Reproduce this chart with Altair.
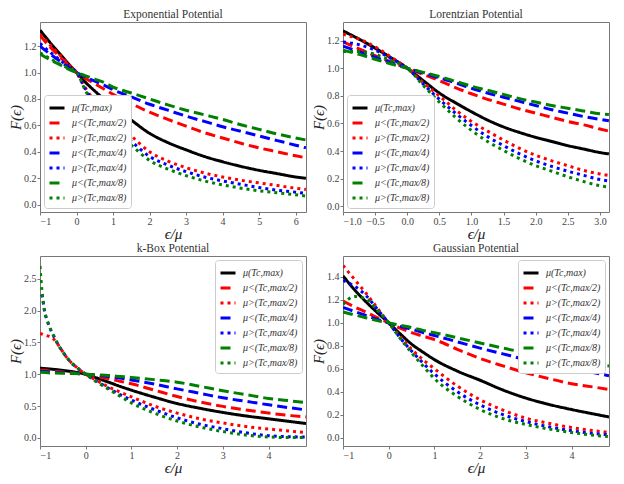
import altair as alt
import pandas as pd

SERIES = ["μ(Tc,max)", "μ<(Tc,max/2)", "μ>(Tc,max/2)", "μ<(Tc,max/4)",
          "μ>(Tc,max/4)", "μ<(Tc,max/8)", "μ>(Tc,max/8)"]
COLORS = ["#000000", "#ff0000", "#ff0000", "#0000ff", "#0000ff", "#008000", "#008000"]
DASHES = [[1, 0], [10, 5], [3, 4], [10, 5], [3, 4], [10, 5], [3, 4]]

# ---------------- Exponential potential ----------------
EXP_X = [-1, -0.75, -0.5, -0.25, 0, 0.25, 0.5, 0.75, 1, 1.5, 2, 2.5, 3, 3.5, 4, 4.5, 5, 5.5, 6, 6.28]
EXP_MU = [1.32, 1.235, 1.155, 1.075, 1.0, 0.925, 0.86, 0.80, 0.745, 0.64, 0.54, 0.47, 0.415, 0.365, 0.325, 0.29, 0.26, 0.235, 0.21, 0.20]
EXP_LT2 = [1.28, 1.20, 1.13, 1.065, 1.0, 0.955, 0.915, 0.875, 0.835, 0.765, 0.70, 0.645, 0.595, 0.545, 0.505, 0.465, 0.43, 0.40, 0.37, 0.355]
EXP_GT2 = [1.29, 1.215, 1.145, 1.07, 1.0, 0.88, 0.78, 0.70, 0.635, 0.52, 0.40, 0.33, 0.28, 0.24, 0.21, 0.185, 0.165, 0.145, 0.125, 0.115]
EXP_LT4 = [1.20, 1.145, 1.095, 1.045, 1.0, 0.965, 0.935, 0.905, 0.87, 0.815, 0.76, 0.715, 0.67, 0.63, 0.59, 0.555, 0.52, 0.485, 0.45, 0.43]
EXP_GT4 = [1.22, 1.16, 1.105, 1.05, 1.0, 0.87, 0.76, 0.675, 0.605, 0.48, 0.365, 0.30, 0.25, 0.21, 0.18, 0.155, 0.13, 0.11, 0.095, 0.085]
EXP_LT8 = [1.14, 1.10, 1.065, 1.03, 1.0, 0.975, 0.95, 0.925, 0.89, 0.845, 0.80, 0.755, 0.715, 0.68, 0.645, 0.605, 0.57, 0.535, 0.505, 0.49]
EXP_GT8 = [1.15, 1.11, 1.07, 1.035, 1.0, 0.86, 0.745, 0.655, 0.58, 0.45, 0.335, 0.27, 0.22, 0.18, 0.15, 0.125, 0.105, 0.09, 0.075, 0.066]

# ---------------- Lorentzian potential ----------------
LOR_X = [-1, -0.75, -0.5, -0.25, 0, 0.25, 0.5, 0.75, 1, 1.25, 1.5, 1.75, 2, 2.25, 2.5, 2.75, 3, 3.14]
LOR_MU = [1.27, 1.21, 1.145, 1.075, 1.0, 0.91, 0.82, 0.75, 0.685, 0.625, 0.575, 0.535, 0.50, 0.47, 0.44, 0.415, 0.39, 0.38]
LOR_LT2 = [1.19, 1.14, 1.09, 1.045, 1.0, 0.955, 0.91, 0.86, 0.815, 0.775, 0.74, 0.705, 0.675, 0.645, 0.615, 0.59, 0.56, 0.545]
LOR_GT2 = [1.245, 1.21, 1.155, 1.08, 1.0, 0.895, 0.80, 0.70, 0.615, 0.545, 0.48, 0.42, 0.37, 0.33, 0.295, 0.26, 0.235, 0.225]
LOR_LT4 = [1.16, 1.12, 1.08, 1.04, 1.0, 0.965, 0.93, 0.895, 0.855, 0.82, 0.79, 0.76, 0.73, 0.70, 0.675, 0.65, 0.63, 0.62]
LOR_GT4 = [1.19, 1.17, 1.13, 1.07, 1.0, 0.885, 0.775, 0.675, 0.585, 0.505, 0.44, 0.38, 0.33, 0.29, 0.255, 0.225, 0.195, 0.185]
LOR_LT8 = [1.13, 1.10, 1.065, 1.03, 1.0, 0.97, 0.94, 0.905, 0.87, 0.84, 0.81, 0.78, 0.755, 0.73, 0.71, 0.69, 0.67, 0.665]
LOR_GT8 = [1.12, 1.12, 1.10, 1.055, 1.0, 0.875, 0.755, 0.645, 0.55, 0.47, 0.405, 0.345, 0.295, 0.255, 0.215, 0.18, 0.15, 0.14]

# ---------------- k-Box potential ----------------
KBOX_X = [-1, -0.75, -0.5, -0.25, 0, 0.25, 0.5, 0.75, 1, 1.5, 2, 2.5, 3, 3.5, 4, 4.5, 4.82]
KBOX_MU = [1.095, 1.08, 1.06, 1.035, 1.0, 0.94, 0.875, 0.81, 0.75, 0.64, 0.54, 0.465, 0.40, 0.345, 0.30, 0.255, 0.225]
KBOX_LT2 = [1.065, 1.05, 1.035, 1.02, 1.0, 0.965, 0.93, 0.89, 0.85, 0.75, 0.65, 0.565, 0.495, 0.44, 0.39, 0.35, 0.33]
KBOX_LT4 = [1.045, 1.035, 1.025, 1.015, 1.0, 0.985, 0.965, 0.94, 0.91, 0.845, 0.77, 0.70, 0.63, 0.575, 0.52, 0.47, 0.44]
KBOX_LT8 = [1.03, 1.02, 1.015, 1.01, 1.0, 0.99, 0.98, 0.965, 0.95, 0.915, 0.875, 0.81, 0.74, 0.68, 0.62, 0.58, 0.555]
KBOX_XD = [-1, -0.98, -0.96, -0.94, -0.92, -0.9, -0.85, -0.8, -0.75, -0.7, -0.6, -0.5, -0.4, -0.3, -0.2, -0.1, 0,
           0.25, 0.5, 0.75, 1, 1.5, 2, 2.5, 3, 3.5, 4, 4.5, 4.82]
KBOX_GT2 = [1.64, 1.635, 1.63, 1.625, 1.62, 1.615, 1.605, 1.595, 1.58, 1.55, 1.46, 1.35, 1.25, 1.17, 1.11, 1.05, 1.0,
            0.90, 0.80, 0.72, 0.645, 0.50, 0.39, 0.30, 0.235, 0.18, 0.14, 0.105, 0.085]
KBOX_GT4 = [None, None, 2.25, 2.19, 2.08, 1.99, 1.86, 1.76, 1.67, 1.60, 1.46, 1.35, 1.25, 1.17, 1.11, 1.05, 1.0,
            0.885, 0.78, 0.68, 0.595, 0.445, 0.315, 0.215, 0.145, 0.08, 0.035, 0.018, 0.015]
KBOX_GT8 = [2.70, 2.50, 2.33, 2.20, 2.08, 1.99, 1.86, 1.76, 1.67, 1.60, 1.46, 1.35, 1.25, 1.17, 1.11, 1.05, 1.0,
            0.875, 0.765, 0.655, 0.55, 0.39, 0.265, 0.17, 0.10, 0.045, 0.015, 0.005, 0.005]

# ---------------- Gaussian potential ----------------
GAU_X = [-1, -0.75, -0.5, -0.25, 0, 0.25, 0.5, 0.75, 1, 1.5, 2, 2.5, 3, 3.5, 4, 4.5, 4.82]
GAU_MU = [1.41, 1.29, 1.185, 1.09, 1.0, 0.905, 0.815, 0.745, 0.68, 0.58, 0.50, 0.415, 0.345, 0.29, 0.245, 0.205, 0.18]
GAU_LT2 = [1.19, 1.14, 1.095, 1.045, 1.0, 0.955, 0.915, 0.885, 0.855, 0.77, 0.69, 0.625, 0.565, 0.515, 0.47, 0.44, 0.42]
GAU_GT2 = [1.50, 1.38, 1.26, 1.13, 1.0, 0.88, 0.77, 0.68, 0.60, 0.45, 0.33, 0.24, 0.17, 0.125, 0.088, 0.06, 0.045]
GAU_LT4 = [1.135, 1.10, 1.065, 1.03, 1.0, 0.97, 0.945, 0.915, 0.89, 0.835, 0.78, 0.73, 0.68, 0.64, 0.60, 0.565, 0.54]
GAU_GT4 = [1.37, 1.32, 1.24, 1.12, 1.0, 0.87, 0.755, 0.65, 0.555, 0.40, 0.285, 0.20, 0.14, 0.095, 0.06, 0.035, 0.025]
GAU_LT8 = [1.095, 1.07, 1.045, 1.02, 1.0, 0.98, 0.96, 0.935, 0.915, 0.87, 0.825, 0.78, 0.74, 0.705, 0.67, 0.64, 0.625]
GAU_GT8 = [1.16, 1.23, 1.21, 1.11, 1.0, 0.865, 0.74, 0.625, 0.515, 0.36, 0.245, 0.165, 0.115, 0.075, 0.045, 0.02, 0.01]

FONT = "Liberation Serif"
W, H = 266, 190


def make_df(items):
    rows = []
    for i, (xs, ys) in enumerate(items):
        for x, y in zip(xs, ys):
            if y is not None:
                rows.append({"x": x, "F": y, "series": SERIES[i], "k": i})
    return pd.DataFrame(rows)


def panel(title, items, xdom, ydom, xticks, yticks, xfmt, yfmt, orient):
    df = make_df(items)
    leg = alt.Legend(orient=orient, fillColor="white", strokeColor="#cccccc", cornerRadius=3,
                     padding=4, offset=4, symbolType="stroke", symbolStrokeWidth=3, symbolSize=225,
                     labelFont=FONT, labelFontStyle="italic", labelFontSize=10, labelColor="#333333",
                     rowPadding=0, labelOffset=6)
    return alt.Chart(df, title=alt.Title(title, font=FONT, fontSize=11.5, fontWeight="normal",
                                         color="#333333", offset=2)).mark_line(
        strokeWidth=3, clip=True, interpolate="monotone", strokeCap="butt"
    ).encode(
        x=alt.X("x:Q", scale=alt.Scale(domain=xdom, nice=False, zero=False),
                axis=alt.Axis(values=xticks, format=xfmt, title="ϵ/μ")),
        y=alt.Y("F:Q", scale=alt.Scale(domain=ydom, nice=False, zero=False),
                axis=alt.Axis(values=yticks, format=yfmt, title="F(ϵ)")),
        color=alt.Color("series:N", sort=SERIES, scale=alt.Scale(domain=SERIES, range=COLORS),
                        title=None, legend=leg),
        strokeDash=alt.StrokeDash("series:N", sort=SERIES, scale=alt.Scale(domain=SERIES, range=DASHES),
                                  title=None, legend=leg),
        order=alt.Order("k:Q"),
    ).properties(width=W, height=H)


p1 = panel("Exponential Potential",
           [(EXP_X, EXP_MU), (EXP_X, EXP_LT2), (EXP_X, EXP_GT2), (EXP_X, EXP_LT4),
            (EXP_X, EXP_GT4), (EXP_X, EXP_LT8), (EXP_X, EXP_GT8)],
           [-1, 6.283], [-0.055, 1.382], [-1, 0, 1, 2, 3, 4, 5, 6],
           [0, 0.2, 0.4, 0.6, 0.8, 1.0, 1.2], "d", ".1f", "bottom-left")
p2 = panel("Lorentzian Potential",
           [(LOR_X, LOR_MU), (LOR_X, LOR_LT2), (LOR_X, LOR_GT2), (LOR_X, LOR_LT4),
            (LOR_X, LOR_GT4), (LOR_X, LOR_LT8), (LOR_X, LOR_GT8)],
           [-1, 3.1416], [-0.04, 1.334], [-1, -0.5, 0, 0.5, 1, 1.5, 2, 2.5, 3],
           [0, 0.2, 0.4, 0.6, 0.8, 1.0, 1.2], ".1f", ".1f", "bottom-left")
p3 = panel("k-Box Potential",
           [(KBOX_X, KBOX_MU), (KBOX_X, KBOX_LT2), (KBOX_XD, KBOX_GT2), (KBOX_X, KBOX_LT4),
            (KBOX_XD, KBOX_GT4), (KBOX_X, KBOX_LT8), (KBOX_XD, KBOX_GT8)],
           [-1, 4.82], [-0.127, 2.856], [-1, 0, 1, 2, 3, 4],
           [0, 0.5, 1.0, 1.5, 2.0, 2.5], "d", ".1f", "top-right")
p4 = panel("Gaussian Potential",
           [(GAU_X, GAU_MU), (GAU_X, GAU_LT2), (GAU_X, GAU_GT2), (GAU_X, GAU_LT4),
            (GAU_X, GAU_GT4), (GAU_X, GAU_LT8), (GAU_X, GAU_GT8)],
           [-1, 4.82], [-0.073, 1.583], [-1, 0, 1, 2, 3, 4],
           [0, 0.2, 0.4, 0.6, 0.8, 1.0, 1.2, 1.4], "d", ".1f", "top-right")

row1 = alt.hconcat(p1, p2, spacing=4).resolve_scale(color="independent", strokeDash="independent")
row2 = alt.hconcat(p3, p4, spacing=4).resolve_scale(color="independent", strokeDash="independent")

chart = alt.vconcat(row1, row2, spacing=0).resolve_scale(
    color="independent", strokeDash="independent"
).properties(
    padding={"left": 0, "top": 0, "right": 0, "bottom": 0}
).configure_view(
    stroke="#777777", strokeWidth=1
).configure_axis(
    domain=False, grid=False, tickColor="#777777", tickSize=3, tickWidth=1,
    labelFont=FONT, labelFontSize=10, labelColor="#444444", labelPadding=1,
    titleFont=FONT, titleFontStyle="italic", titleFontSize=15, titleFontWeight="normal",
    titleColor="#222222", titlePadding=0
)

chart.save("out.html", embed_options={"renderer": "svg", "actions": False})
